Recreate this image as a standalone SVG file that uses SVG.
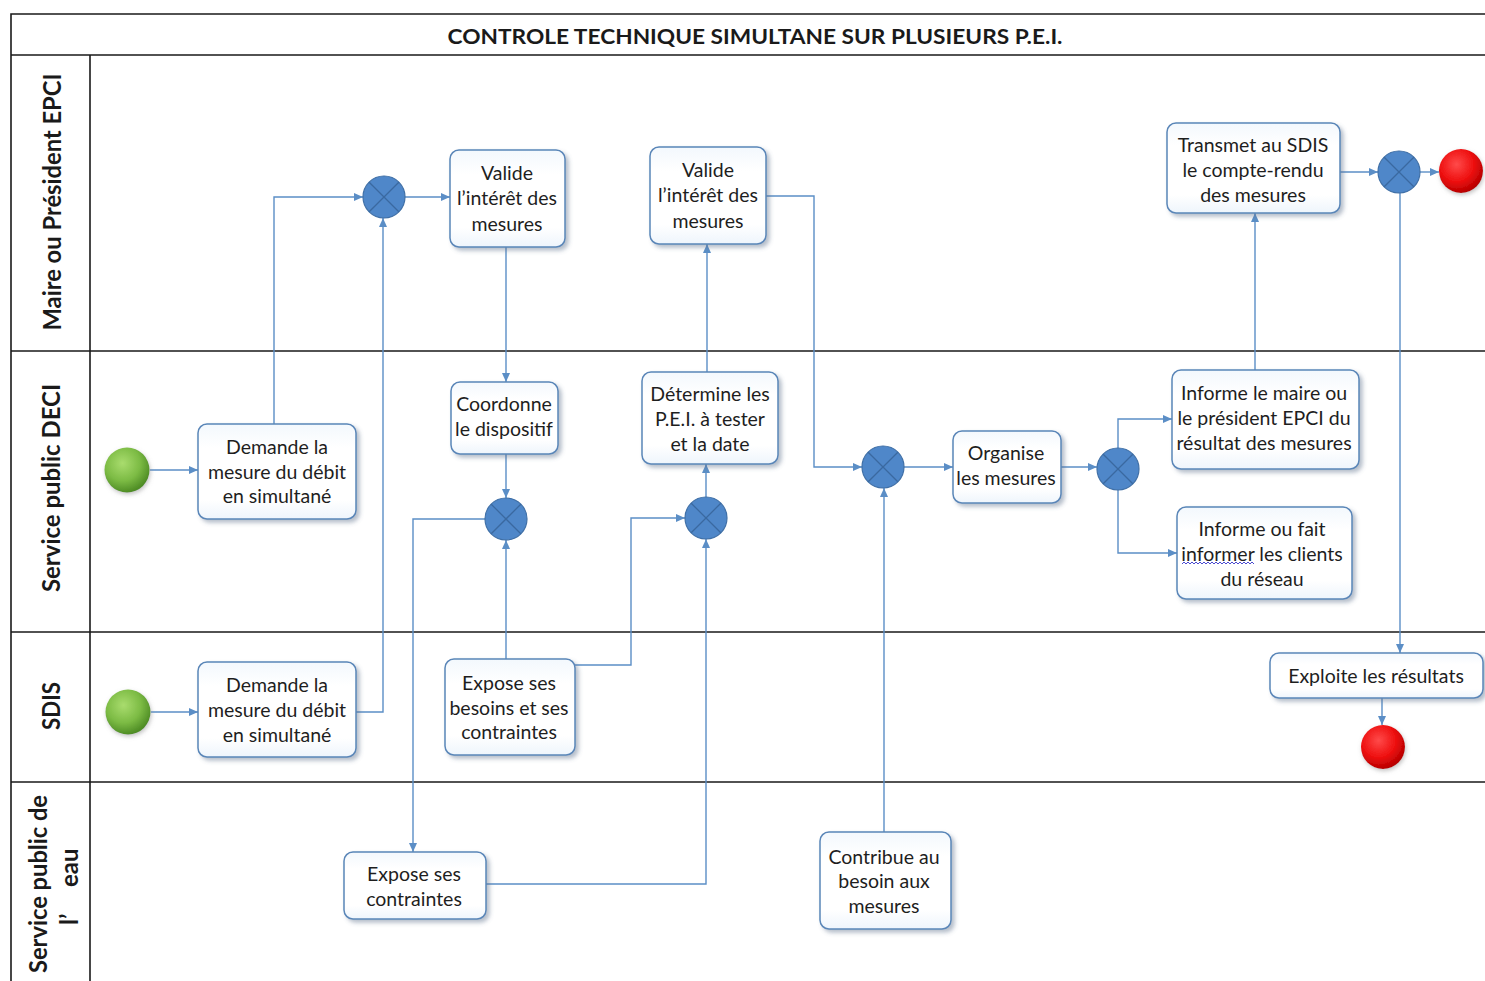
<svg xmlns="http://www.w3.org/2000/svg" width="1485" height="981" viewBox="0 0 1485 981">
  <style>
    .lane { stroke: #1a1a1a; stroke-width: 1.6; fill: none; }
    .title { font-family: Lato, "Liberation Sans", sans-serif; font-weight: bold; font-size: 21px; fill: #1a1a1a; }
    .lanelbl { font-family: Lato, "Liberation Sans", sans-serif; font-weight: bold; font-size: 24px; fill: #1a1a1a; }
    .box { fill: url(#boxFill); stroke: #5a86b8; stroke-width: 1.5; filter: url(#shadow); }
    .lbl { font-family: Lato, "Liberation Sans", sans-serif; font-size: 19.5px; fill: #1e1e1e; text-anchor: middle; dominant-baseline: central; }
    .gw { fill: #4f87c9; stroke: #3f6fa6; stroke-width: 1.2; }
    .gwx { stroke: #3a69a0; stroke-width: 1.3; }
    .flow { fill: none; stroke: #5b8ec6; stroke-width: 1.4; marker-end: url(#arrow); }
  </style>
  <defs>
    <marker id="arrow" markerUnits="userSpaceOnUse" markerWidth="9" markerHeight="8" refX="9" refY="4" orient="auto">
      <path d="M0,0 L9,4 L0,8 z" fill="#5b8ec6"/>
    </marker>
    <linearGradient id="boxFill" x1="0" y1="0" x2="0" y2="1">
      <stop offset="0" stop-color="#f3f8fd"/>
      <stop offset="0.25" stop-color="#ffffff"/>
      <stop offset="0.8" stop-color="#ffffff"/>
      <stop offset="1" stop-color="#eef5fc"/>
    </linearGradient>
    <filter id="shadow" x="-10%" y="-10%" width="130%" height="135%">
      <feDropShadow dx="3" dy="3" stdDeviation="2" flood-color="#5a6f8a" flood-opacity="0.45"/>
    </filter>
    <filter id="glow" x="-40%" y="-40%" width="180%" height="180%">
      <feDropShadow dx="1" dy="2" stdDeviation="2" flood-color="#888" flood-opacity="0.5"/>
    </filter>
    <radialGradient id="green" cx="0.4" cy="0.35" r="0.65">
      <stop offset="0" stop-color="#a9dc6e"/>
      <stop offset="0.6" stop-color="#7cbb44"/>
      <stop offset="1" stop-color="#4f8d25"/>
    </radialGradient>
    <radialGradient id="red" cx="0.4" cy="0.35" r="0.65">
      <stop offset="0" stop-color="#ff4a4a"/>
      <stop offset="0.6" stop-color="#ee1010"/>
      <stop offset="1" stop-color="#b80000"/>
    </radialGradient>
  </defs>

  <rect width="1485" height="981" fill="#ffffff"/>

  <!-- pool frame and lanes -->
  <g id="pool">
    <path class="lane" d="M11,981 V14 H1485 M11,55 H1485 M90,55 V981 M11,351 H1485 M11,632 H1485 M11,782 H1485"/>
    <text class="title" x="755" y="44" text-anchor="middle" textLength="615" lengthAdjust="spacingAndGlyphs">CONTROLE TECHNIQUE SIMULTANE SUR PLUSIEURS P.E.I.</text>
    <text class="lanelbl" transform="translate(61,202) rotate(-90)" text-anchor="middle" textLength="257" lengthAdjust="spacingAndGlyphs">Maire ou Président EPCI</text>
    <text class="lanelbl" transform="translate(60,488) rotate(-90)" text-anchor="middle" textLength="208" lengthAdjust="spacingAndGlyphs">Service public DECI</text>
    <text class="lanelbl" transform="translate(60,706) rotate(-90)" text-anchor="middle" textLength="48" lengthAdjust="spacingAndGlyphs">SDIS</text>
    <text class="lanelbl" transform="translate(47,884) rotate(-90)" text-anchor="middle" textLength="178" lengthAdjust="spacingAndGlyphs">Service public de</text>
    <text class="lanelbl" transform="translate(78,0) rotate(-90)"><tspan x="-925">l’</tspan><tspan x="-887">eau</tspan></text>
  </g>

  <!-- connectors -->
  <g id="connectors">
    <path class="flow" d="M150,470 H198"/>
    <path class="flow" d="M151,712 H198"/>
    <path class="flow" d="M274,424 V197 H363"/>
    <path class="flow" d="M356,712 H383 V218"/>
    <path class="flow" d="M405,197 H450"/>
    <path class="flow" d="M506,247 V382"/>
    <path class="flow" d="M506,454 V498"/>
    <path class="flow" d="M506,659 V540"/>
    <path class="flow" d="M485,519 H413 V852"/>
    <path class="flow" d="M575,665 H631 V518 H685"/>
    <path class="flow" d="M486,884 H706 V539"/>
    <path class="flow" d="M706,497 V464"/>
    <path class="flow" d="M707,372 V244"/>
    <path class="flow" d="M766,196 H814 V467 H862"/>
    <path class="flow" d="M884,832 V488"/>
    <path class="flow" d="M904,467 H953"/>
    <path class="flow" d="M1061,467 H1097"/>
    <path class="flow" d="M1118,448 V419 H1172"/>
    <path class="flow" d="M1118,490 V553 H1177"/>
    <path class="flow" d="M1255,370 V213"/>
    <path class="flow" d="M1340,172 H1378"/>
    <path class="flow" d="M1420,172 H1439"/>
    <path class="flow" d="M1400,193 V653"/>
    <path class="flow" d="M1382,698 V725"/>
  </g>

  <!-- start events -->
  <g id="start-deci"><circle cx="127" cy="470" r="22.5" fill="url(#green)" filter="url(#glow)"/></g>
  <g id="start-sdis"><circle cx="128" cy="712" r="22.5" fill="url(#green)" filter="url(#glow)"/></g>

  <!-- end events -->
  <g id="end-maire"><circle cx="1461" cy="171" r="22" fill="url(#red)" filter="url(#glow)"/></g>
  <g id="end-sdis"><circle cx="1383" cy="747" r="22" fill="url(#red)" filter="url(#glow)"/></g>

  <!-- exclusive gateways -->
  <g id="gw1"><circle class="gw" cx="384" cy="197" r="21"/><path class="gwx" d="M369.2,182.2 L398.8,211.8 M398.8,182.2 L369.2,211.8"/></g>
  <g id="gw2"><circle class="gw" cx="506" cy="519" r="21"/><path class="gwx" d="M491.2,504.2 L520.8,533.8 M520.8,504.2 L491.2,533.8"/></g>
  <g id="gw3"><circle class="gw" cx="706" cy="518" r="21"/><path class="gwx" d="M691.2,503.2 L720.8,532.8 M720.8,503.2 L691.2,532.8"/></g>
  <g id="gw4"><circle class="gw" cx="883" cy="467" r="21"/><path class="gwx" d="M868.2,452.2 L897.8,481.8 M897.8,452.2 L868.2,481.8"/></g>
  <g id="gw5"><circle class="gw" cx="1118" cy="469" r="21"/><path class="gwx" d="M1103.2,454.2 L1132.8,483.8 M1132.8,454.2 L1103.2,483.8"/></g>
  <g id="gw6"><circle class="gw" cx="1399" cy="172" r="21"/><path class="gwx" d="M1384.2,157.2 L1413.8,186.8 M1413.8,157.2 L1384.2,186.8"/></g>

  <!-- tasks -->
  <g id="valide-1">
    <rect class="box" x="450" y="150" width="115" height="97" rx="9"/>
    <text class="lbl" x="507" y="172">Valide</text>
    <text class="lbl" x="507" y="197">l’intérêt des</text>
    <text class="lbl" x="507" y="223">mesures</text>
  </g>
  <g id="valide-2">
    <rect class="box" x="650" y="147" width="116" height="97" rx="9"/>
    <text class="lbl" x="708" y="169">Valide</text>
    <text class="lbl" x="708" y="194">l’intérêt des</text>
    <text class="lbl" x="708" y="220">mesures</text>
  </g>
  <g id="transmet">
    <rect class="box" x="1167" y="123" width="173" height="90" rx="9"/>
    <text class="lbl" x="1253" y="144">Transmet au SDIS</text>
    <text class="lbl" x="1253" y="169">le compte-rendu</text>
    <text class="lbl" x="1253" y="194">des mesures</text>
  </g>
  <g id="demande-deci">
    <rect class="box" x="198" y="424" width="158" height="95" rx="9"/>
    <text class="lbl" x="277" y="446">Demande la</text>
    <text class="lbl" x="277" y="471">mesure du débit</text>
    <text class="lbl" x="277" y="495">en simultané</text>
  </g>
  <g id="coordonne">
    <rect class="box" x="451" y="382" width="107" height="72" rx="9"/>
    <text class="lbl" x="504" y="403">Coordonne</text>
    <text class="lbl" x="504" y="428">le dispositif</text>
  </g>
  <g id="determine">
    <rect class="box" x="642" y="372" width="136" height="92" rx="9"/>
    <text class="lbl" x="710" y="393">Détermine les</text>
    <text class="lbl" x="710" y="418">P.E.I. à tester</text>
    <text class="lbl" x="710" y="443">et la date</text>
  </g>
  <g id="organise">
    <rect class="box" x="953" y="431" width="108" height="72" rx="9"/>
    <text class="lbl" x="1006" y="452">Organise</text>
    <text class="lbl" x="1006" y="477">les mesures</text>
  </g>
  <g id="informe-maire">
    <rect class="box" x="1172" y="370" width="187" height="99" rx="9"/>
    <text class="lbl" x="1264" y="392">Informe le maire ou</text>
    <text class="lbl" x="1264" y="417">le président EPCI du</text>
    <text class="lbl" x="1264" y="442">résultat des mesures</text>
  </g>
  <g id="informe-clients">
    <rect class="box" x="1177" y="507" width="175" height="92" rx="9"/>
    <text class="lbl" x="1262" y="528">Informe ou fait</text>
    <text class="lbl" x="1262" y="553">informer les clients</text>
    <text class="lbl" x="1262" y="578">du réseau</text>
    <path d="M1182,564 l2,-2 l2,2 l2,-2 l2,2 l2,-2 l2,2 l2,-2 l2,2 l2,-2 l2,2 l2,-2 l2,2 l2,-2 l2,2 l2,-2 l2,2 l2,-2 l2,2 l2,-2 l2,2 l2,-2 l2,2 l2,-2 l2,2 l2,-2 l2,2 l2,-2 l2,2 l2,-2 l2,2 l2,-2 l2,2 l2,-2 l2,2 l2,-2 l2,2" fill="none" stroke="#4a4ad0" stroke-width="1"/>
  </g>
  <g id="demande-sdis">
    <rect class="box" x="198" y="662" width="158" height="95" rx="9"/>
    <text class="lbl" x="277" y="684">Demande la</text>
    <text class="lbl" x="277" y="709">mesure du débit</text>
    <text class="lbl" x="277" y="734">en simultané</text>
  </g>
  <g id="expose-besoins">
    <rect class="box" x="445" y="659" width="130" height="96" rx="9"/>
    <text class="lbl" x="509" y="682">Expose ses</text>
    <text class="lbl" x="509" y="707">besoins et ses</text>
    <text class="lbl" x="509" y="731">contraintes</text>
  </g>
  <g id="exploite">
    <rect class="box" x="1270" y="653" width="213" height="45" rx="9"/>
    <text class="lbl" x="1376" y="675">Exploite les résultats</text>
  </g>
  <g id="expose-contraintes">
    <rect class="box" x="344" y="852" width="142" height="67" rx="9"/>
    <text class="lbl" x="414" y="873">Expose ses</text>
    <text class="lbl" x="414" y="898">contraintes</text>
  </g>
  <g id="contribue">
    <rect class="box" x="820" y="832" width="131" height="97" rx="9"/>
    <text class="lbl" x="884" y="856">Contribue au</text>
    <text class="lbl" x="884" y="880">besoin aux</text>
    <text class="lbl" x="884" y="905">mesures</text>
  </g>
</svg>
